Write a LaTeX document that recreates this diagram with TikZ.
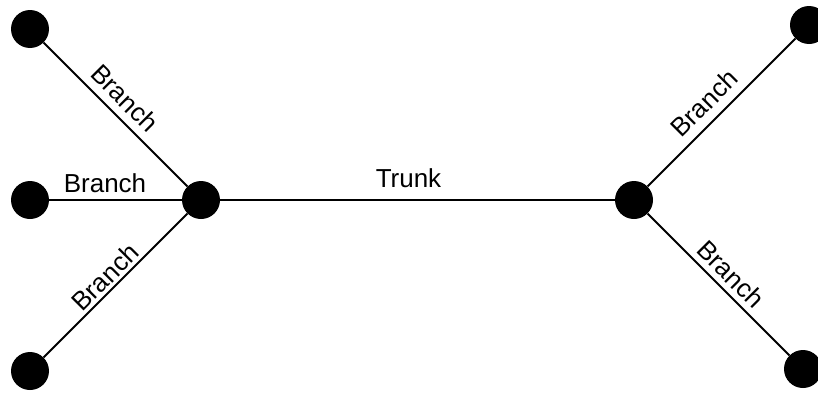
\documentclass[tikz,border=0pt]{standalone}
\usepackage{fontspec}
\setmainfont{Liberation Sans}
\begin{document}
\begin{tikzpicture}[x=0.75pt,y=-0.75pt,
  dot/.style={circle,fill=black,draw=none,minimum size=28.5pt,inner sep=0pt},
  edge/.style={line width=1.5pt,black},
  lbl/.style={inner sep=0pt,font=\fontsize{19.5pt}{22pt}\selectfont}]
\useasboundingbox (0,0) rectangle (818,393);
\node[dot] (hl) at (201,200) {};
\node[dot] (hr) at (634,200) {};
\node[dot] (l1) at (30,29) {};
\node[dot] (l2) at (30,200) {};
\node[dot] (l3) at (30,371) {};
\node[dot] (r1) at (809,25) {};
\node[dot] (r2) at (803,369) {};
\draw[edge] (hl) -- (hr);
\draw[edge] (hl) -- (l1);
\draw[edge] (hl) -- (l2);
\draw[edge] (hl) -- (l3);
\draw[edge] (hr) -- (r1);
\draw[edge] (hr) -- (r2);
\node[lbl] (tt) at (408.5,178) {Trunk};
\node[lbl] (b2) at (105,183) {Branch};
\node[lbl,rotate=-45] (b1) at (125,98) {Branch};
\node[lbl,rotate=45] (b3) at (105,277) {Branch};
\node[lbl,rotate=45] (b4) at (704,103) {Branch};
\node[lbl,rotate=-45] (b5) at (731,274) {Branch};
\end{tikzpicture}
\end{document}
